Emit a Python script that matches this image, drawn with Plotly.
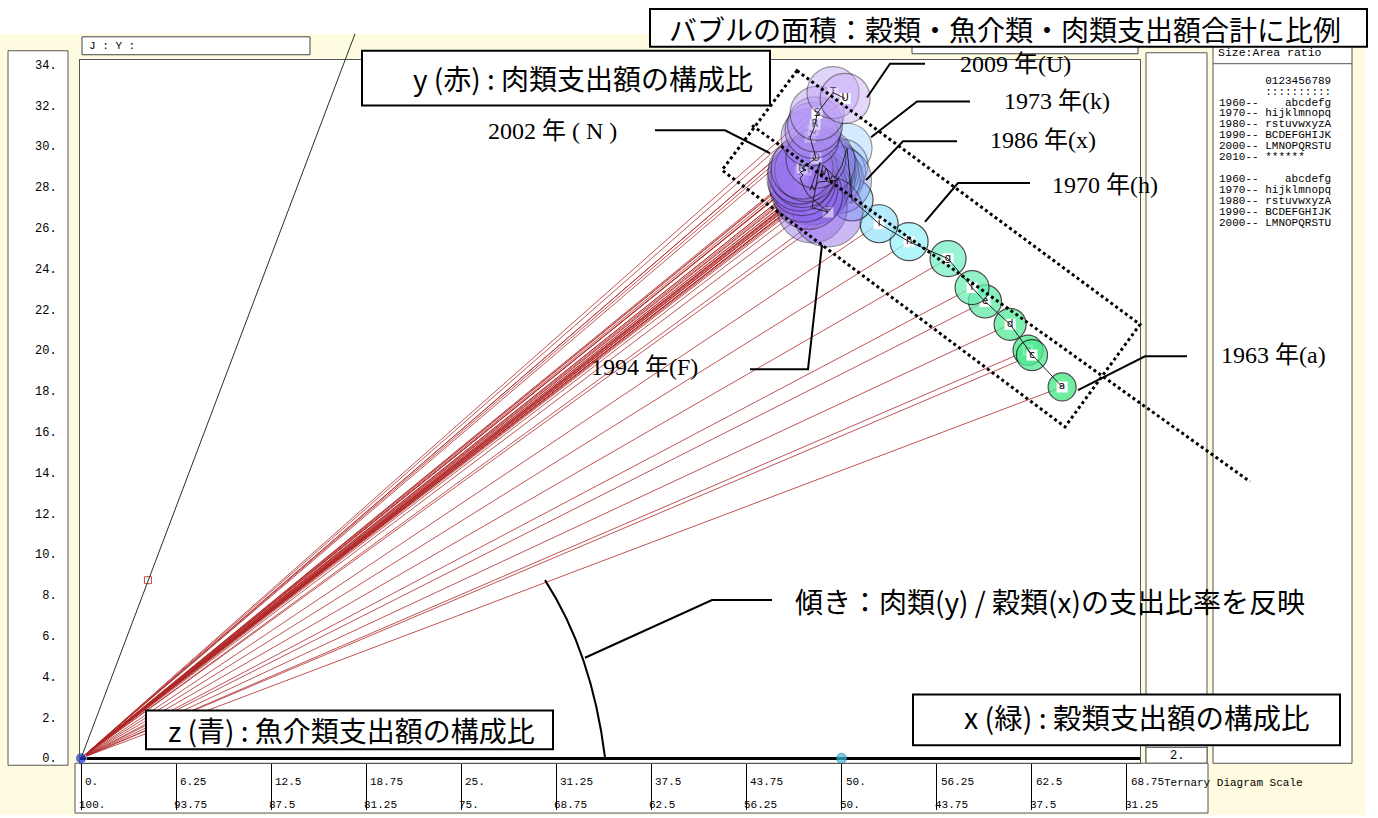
import plotly.graph_objects as go
from plotly.colors import sample_colorscale

W, H = 1378, 818

# ---------------- data ----------------
years = list(range(1963, 2010))
codes = list("abcdefghijklmnopqrstuvwxyzABCDEFGHIJKLMNOPQRSTU")

# x : grain share (ternary scale), y : meat share
grain_x = [64.50, 62.26, 62.52, 61.08, 59.43, 58.58, 57.00,
           54.44, 52.47, 50.69, 50.36, 50.03, 49.77, 49.57, 49.38, 49.24, 49.11,
           48.98, 48.85, 48.72, 48.72, 48.59, 48.78, 49.77, 48.46, 48.32, 48.19,
           48.06, 47.93, 48.59, 48.06, 49.11, 47.80, 47.53, 47.40, 47.27, 47.47,
           47.27, 47.67, 47.40, 48.32, 47.93, 48.13, 48.26, 48.39, 49.44, 50.23]
meat_y = [18.20, 20.00, 19.76, 21.27, 22.39, 23.07, 24.49,
          25.32, 26.20, 27.37, 29.90, 29.07, 28.73, 28.44, 28.54, 28.34, 28.73,
          28.93, 28.59, 28.83, 28.44, 28.54, 29.07, 28.34, 28.24, 28.05, 27.85,
          28.10, 27.85, 29.22, 26.98, 26.78, 27.61, 27.95, 28.24, 28.44, 28.59,
          28.73, 28.83, 28.93, 29.41, 30.44, 30.78, 31.07, 31.61, 32.63, 32.34]
# total expenditure index (bubble area)
total = [100, 115, 123, 131, 139, 147, 165,
         184, 184, 225, 319, 345, 386, 414, 444, 459, 490,
         506, 522, 539, 539, 556, 556, 573, 573, 590, 590,
         607, 625, 625, 625, 625, 607, 590, 573, 556, 539,
         522, 506, 490, 459, 429, 400, 386, 372, 345, 319]

y_tickvals = list(range(0, 35, 2))
y_ticktext = ["0.", "2.", "4.", "6.", "8.", "10.", "12.", "14.", "16.", "18.",
              "20.", "22.", "24.", "26.", "28.", "30.", "32.", "34."]
x_tickvals = [0, 6.25, 12.5, 18.75, 25, 31.25, 37.5, 43.75, 50, 56.25, 62.5, 68.75]
x_top_labels = ["0.", "6.25", "12.5", "18.75", "25.", "31.25", "37.5", "43.75",
                "50.", "56.25", "62.5", "68.75"]
x_bottom_labels = ["100.", "93.75", "87.5", "81.25", "75.", "68.75", "62.5",
                   "56.25", "50.", "43.75", "37.5", "31.25"]

z_marks_x = [0, 50]
z_marks_y = [0, 0]
marker_u_x = [4.4]
marker_u_y = [8.73]

legend_lines = ["       0123456789", "       ::::::::::",
                "1960--    abcdefg", "1970-- hijklmnopq", "1980-- rstuvwxyzA",
                "1990-- BCDEFGHIJK", "2000-- LMNOPQRSTU", "2010-- ******", "",
                "1960--    abcdefg", "1970-- hijklmnopq", "1980-- rstuvwxyzA",
                "1990-- BCDEFGHIJK", "2000-- LMNOPQRSTU"]

# ---------------- helpers ----------------
def px(x):
    return x / W

def py(y):
    return 1 - y / H

def rect(x0, y0, x1, y1, fill="white", lc="#555555", lw=1, layer="below"):
    return dict(type="rect", xref="paper", yref="paper",
                x0=px(x0), y0=py(y1), x1=px(x1), y1=py(y0),
                fillcolor=fill, line=dict(color=lc, width=lw), layer=layer)

def poly(pts, color="black", width=2, dash="solid", close=False):
    d = "M " + " L ".join(f"{px(a):.5f},{py(b):.5f}" for a, b in pts)
    if close:
        d += " Z"
    return dict(type="path", xref="paper", yref="paper", path=d,
                line=dict(color=color, width=width, dash=dash), layer="above")

def text(t, x, y, size=12, family="Liberation Mono", anchor="left", color="black"):
    return dict(xref="paper", yref="paper", x=px(x), y=py(y), text=t,
                showarrow=False, xanchor=anchor, yanchor="middle",
                font=dict(size=size, family=family, color=color))

# ---------------- traces ----------------
fig = go.Figure()

lx, ly = [], []
for gx, my in zip(grain_x, meat_y):
    lx += [0, gx, None]
    ly += [0, my, None]
fig.add_trace(go.Scatter(x=lx, y=ly, mode="lines", hoverinfo="skip",
                         line=dict(color="#b02828", width=0.8), showlegend=False))

cs = [[0, "#3fe882"], [0.065, "#55eb98"], [0.13, "#78efc4"], [0.152, "#98f2fa"],
      [0.196, "#9fd8ff"], [0.26, "#9cc4ff"], [0.37, "#96b0fc"], [0.5, "#8f9cf8"],
      [0.587, "#8e84f2"], [0.674, "#8e64ea"], [0.804, "#9670ee"], [0.891, "#a284f0"],
      [1, "#c4a8f8"]]
fr = [(yv - years[0]) / (years[-1] - years[0]) for yv in years]
cols = sample_colorscale(cs, fr)
sizeref = 2 * 100 / 28 ** 2
label_v = 11 ** 2 * sizeref / 2

for i in range(len(years)):
    op = 0.75 if i < 10 else 0.45
    fig.add_trace(go.Scatter(
        x=[grain_x[i], grain_x[i]], y=[meat_y[i], meat_y[i]],
        mode="markers+text", text=["", codes[i]], textposition="middle center",
        textfont=dict(size=10, family="DejaVu Sans", color="black"),
        marker=dict(size=[total[i], label_v], sizemode="area", sizeref=sizeref,
                    symbol=["circle", "square"], color=[cols[i], "white"],
                    opacity=[op, 1],
                    line=dict(color=["#111111", "white"], width=[1.2, 0])),
        hovertext=f"{years[i]} ({codes[i]})", hoverinfo="text", showlegend=False))

fig.add_trace(go.Scatter(x=grain_x, y=meat_y, mode="lines", hoverinfo="skip",
                         line=dict(color="#222222", width=1), showlegend=False))

fig.add_trace(go.Scatter(x=z_marks_x, y=z_marks_y, mode="markers", cliponaxis=False,
                         marker=dict(size=[11, 10], color=["#1030e0", "#40b8e0"],
                                     line=dict(color=["#ffffff", "#1080b0"], width=1)),
                         hoverinfo="skip", showlegend=False))
fig.add_trace(go.Scatter(x=marker_u_x, y=marker_u_y, mode="markers",
                         marker=dict(symbol="square-open", size=7, color="#d04040"),
                         hoverinfo="skip", showlegend=False))

# ---------------- shapes ----------------
shapes = [
    rect(0, 33, 1365, 818, fill="#fffbe0", lw=0),
    rect(80, 59, 1140, 766, lw=0),
    rect(8, 50, 68, 768),
    rect(82, 36, 310, 54, lc="#444444"),
    rect(912, 36, 1138, 53, lc="#444444"),
    rect(1146, 52, 1207, 766),
    rect(1146, 750, 1207, 766),
    rect(1213, 40, 1352, 766),
    dict(type="line", xref="paper", yref="paper", x0=px(1213), x1=px(1352),
         y0=py(63), y1=py(63), line=dict(color="#555555", width=1), layer="below"),
    rect(75, 766, 1208, 816),
    # steep edge line from origin
    poly([(81, 761), (355, 33)], color="#1a3a1a", width=1),
    # dotted rectangle & long dotted line
    poly([(797, 70), (1140, 325), (1065, 428), (722, 170)], width=3, dash="dot", close=True),
    poly([(752, 125), (1250, 483)], width=3, dash="dot"),
    # leader lines
    poly([(925, 63), (890, 63), (867, 97)]),
    poly([(970, 101), (917, 101), (871, 137)]),
    poly([(957, 141), (903, 141), (866, 180)]),
    poly([(1030, 183), (958, 183), (925, 222)]),
    poly([(1187, 357), (1145, 357), (1078, 391)]),
    poly([(750, 370), (808, 370), (822, 245)]),
    poly([(655, 130), (725, 130), (770, 153)]),
    poly([(772, 602), (712, 602), (585, 660)]),
    dict(type="path", xref="paper", yref="paper", layer="above",
         path=f"M {px(545):.5f},{py(582):.5f} Q {px(592):.5f},{py(655):.5f} {px(605):.5f},{py(760):.5f}",
         line=dict(color="black", width=2)),
    # caption boxes
    rect(650, 8, 1367, 46, lc="black", lw=2, layer="above"),
    rect(362, 50, 770, 105, lc="black", lw=2, layer="above"),
    rect(146, 713, 553, 752, lc="black", lw=2, layer="above"),
    rect(913, 697, 1340, 748, lc="black", lw=2, layer="above"),
]

jp = "Noto Sans CJK JP"
serif = "Liberation Serif, Noto Sans CJK JP"
anns = [
    text("バブルの面積：穀類・魚介類・肉類支出額合計に比例", 1005, 28, size=28, family=jp, anchor="center"),
    text("y (赤) : 肉類支出額の構成比", 583, 77, size=28, family=jp, anchor="center"),
    text("z (青) : 魚介類支出額の構成比", 351, 733, size=28, family=jp, anchor="center"),
    text("x (緑) : 穀類支出額の構成比", 1137, 719, size=28.5, family=jp, anchor="center"),
    text("傾き：肉類(y) / 穀類(x)の支出比率を反映", 1050, 603, size=28, family=jp, anchor="center"),
    text("2009 年(U)", 958, 63, size=24, family=serif),
    text("1973 年(k)", 1002, 100, size=24, family=serif),
    text("1986 年(x)", 988, 140, size=24, family=serif),
    text("1970 年(h)", 1050, 185, size=24, family=serif),
    text("1963 年(a)", 1219, 356, size=24, family=serif),
    text("1994 年(F)", 589, 368, size=24, family=serif),
    text("2002 年 ( N )", 486, 131, size=24, family=serif),
    text("J : Y :", 87, 45, size=11),
    text("Size:Area ratio", 1216, 52, size=11.5),
    text("Ternary Diagram Scale", 1162, 786, size=11),
    text("2.", 1177, 759, size=12, anchor="center"),
]
for k, line in enumerate(legend_lines):
    if line:
        anns.append(text(line, 1217, 80 + 11 * k, size=11, anchor="left"))

for v, t1, t2 in zip(x_tickvals, x_top_labels, x_bottom_labels):
    anns.append(dict(xref="x", yref="paper", x=v, y=py(785), text=t1, showarrow=False,
                     xanchor="left", yanchor="middle", xshift=2,
                     font=dict(size=11, family="Liberation Mono", color="black")))
    anns.append(dict(xref="x", yref="paper", x=v, y=py(808), text=t2, showarrow=False,
                     xanchor="left", yanchor="middle", xshift=-4,
                     font=dict(size=11, family="Liberation Mono", color="black")))

fig.update_layout(
    width=W, height=H, margin=dict(l=0, r=0, t=0, b=0),
    paper_bgcolor="white", plot_bgcolor="white",
    shapes=shapes, annotations=anns, showlegend=False,
    xaxis=dict(domain=[px(80), px(1140)], range=[-0.066, 69.62], showgrid=False,
               zeroline=False, showline=True, mirror=True, linecolor="#555555",
               linewidth=1, ticks="outside", ticklen=46, tickcolor="black",
               tickwidth=1, tickvals=x_tickvals, showticklabels=False, fixedrange=True),
    yaxis=dict(domain=[py(766), py(59)], range=[-0.244, 34.24], showgrid=False,
               zeroline=True, zerolinecolor="black", zerolinewidth=2.5,
               showline=True, mirror=True, linecolor="#555555", linewidth=1,
               ticks="", tickvals=y_tickvals, ticktext=y_ticktext,
               tickfont=dict(size=12, family="Liberation Mono", color="black"),
               ticklabelstandoff=20, fixedrange=True),
)

fig.write_html("out.html", config={"displayModeBar": False},
               post_script="document.body.style.margin='0';document.body.style.overflow='hidden';")
